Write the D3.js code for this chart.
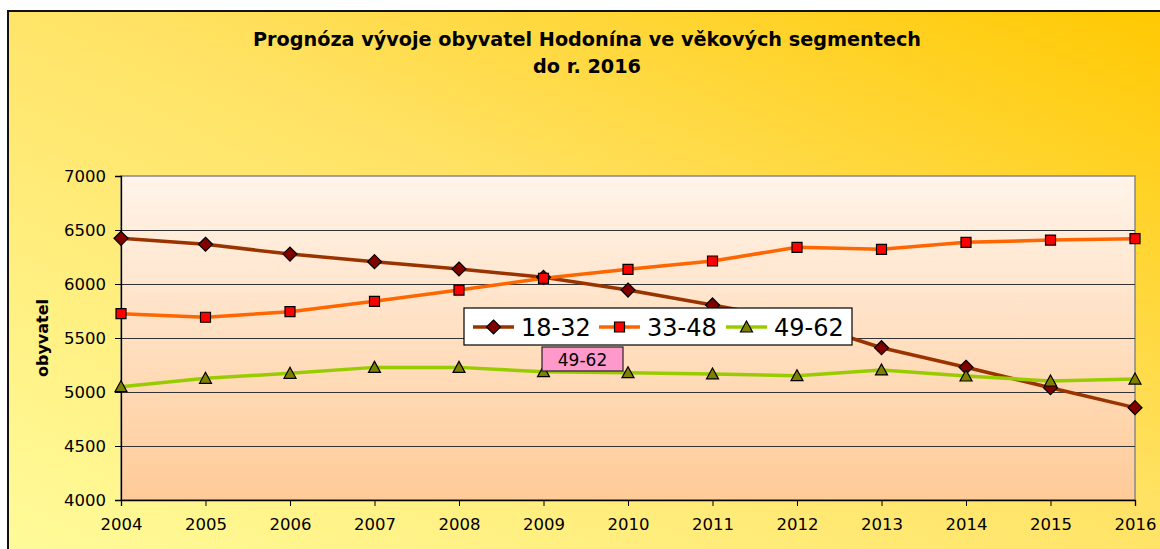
<!DOCTYPE html>
<html>
<head>
<meta charset="utf-8">
<title>Prognóza vývoje obyvatel Hodonína</title>
<script src="https://d3js.org/d3.v7.min.js"></script>
<style>
  body { margin: 0; background: #fff; }
  text { font-family: "DejaVu Sans", Verdana, sans-serif; fill: #000; }
</style>
</head>
<body>
<svg id="chart" width="1160" height="549"></svg>
<script>
// data
var years = [2004, 2005, 2006, 2007, 2008, 2009, 2010, 2011, 2012, 2013, 2014, 2015, 2016];
var s1832 = [6423, 6368, 6277, 6207, 6139, 6062, 5944, 5806, 5660, 5410, 5229, 5040, 4855];
var s3348 = [5725, 5692, 5744, 5840, 5944, 6053, 6136, 6213, 6340, 6321, 6386, 6407, 6420];
var s4962 = [5049, 5127, 5173, 5228, 5228, 5188, 5179, 5167, 5151, 5204, 5148, 5102, 5120];
var yTicks = [4000, 4500, 5000, 5500, 6000, 6500, 7000];
var titleLines = ["Prognóza vývoje obyvatel Hodonína ve věkových segmentech", "do r. 2016"];

var series = [
  { name: "18-32", values: s1832, line: "#993300", fill: "#800000", marker: "diamond" },
  { name: "33-48", values: s3348, line: "#FF6600", fill: "#FF0000", marker: "square" },
  { name: "49-62", values: s4962, line: "#99CC00", fill: "#808000", marker: "triangle" }
];

var svg = d3.select("#chart");
var defs = svg.append("defs");

var bg = defs.append("linearGradient").attr("id", "bg")
  .attr("x1", 0).attr("y1", 1).attr("x2", 1).attr("y2", 0);
bg.append("stop").attr("offset", "0%").attr("stop-color", "#FFFC9C");
bg.append("stop").attr("offset", "55%").attr("stop-color", "#FFE264");
bg.append("stop").attr("offset", "100%").attr("stop-color", "#FFC800");

var pg = defs.append("linearGradient").attr("id", "plotbg")
  .attr("x1", 0).attr("y1", 0).attr("x2", 0).attr("y2", 1);
pg.append("stop").attr("offset", "0%").attr("stop-color", "#FFF4EA");
pg.append("stop").attr("offset", "100%").attr("stop-color", "#FFCB98");

// outer chart area
svg.append("rect")
  .attr("x", 8).attr("y", 11).attr("width", 1170).attr("height", 560)
  .attr("fill", "url(#bg)").attr("stroke", "#111").attr("stroke-width", 2);

// title
svg.append("text")
  .attr("x", 587).attr("y", 46)
  .attr("text-anchor", "middle")
  .attr("font-weight", "bold").attr("font-size", "19px")
  .attr("textLength", 668).attr("lengthAdjust", "spacingAndGlyphs")
  .text(titleLines[0]);
svg.append("text")
  .attr("x", 587).attr("y", 73)
  .attr("text-anchor", "middle")
  .attr("font-weight", "bold").attr("font-size", "19px")
  .attr("textLength", 108).attr("lengthAdjust", "spacingAndGlyphs")
  .text(titleLines[1]);

var plotLeft = 121, plotRight = 1135, plotTop = 176, plotBottom = 500;

var x = d3.scalePoint().domain(years).range([plotLeft, plotRight]);
var y = d3.scaleLinear().domain([4000, 7000]).range([plotBottom, plotTop]);

// plot area
svg.append("rect")
  .attr("x", plotLeft).attr("y", plotTop)
  .attr("width", plotRight - plotLeft).attr("height", plotBottom - plotTop)
  .attr("fill", "url(#plotbg)").attr("stroke", "#888").attr("stroke-width", 1.5);

// gridlines
svg.append("g").selectAll("line")
  .data(yTicks.slice(1, -1))
  .enter().append("line")
    .attr("x1", plotLeft).attr("x2", plotRight)
    .attr("y1", function(d) { return y(d) + 0.5; })
    .attr("y2", function(d) { return y(d) + 0.5; })
    .attr("stroke", "#333").attr("stroke-width", 1);

// axes
var yAxis = svg.append("g")
  .attr("transform", "translate(" + plotLeft + ",0)")
  .call(d3.axisLeft(y).tickValues(yTicks).tickSize(6).tickPadding(9).tickFormat(d3.format("d")));
var xAxis = svg.append("g")
  .attr("transform", "translate(0," + plotBottom + ")")
  .call(d3.axisBottom(x).tickSize(6).tickPadding(16));

[yAxis, xAxis].forEach(function(a) {
  a.select(".domain").attr("stroke", "#000").attr("stroke-width", 1.3);
  a.selectAll(".tick line").attr("stroke", "#000");
  a.selectAll(".tick text")
    .attr("font-family", "DejaVu Sans, Verdana, sans-serif")
    .attr("font-size", "16.5px").attr("fill", "#000");
});
xAxis.selectAll(".tick text").attr("dy", "0.32em").attr("y", 25);

// y axis title
svg.append("text")
  .attr("transform", "translate(48,338) rotate(-90)")
  .attr("text-anchor", "middle")
  .attr("font-weight", "bold").attr("font-size", "16px")
  .text("obyvatel");

function markerPath(type) {
  if (type === "diamond") return "M0,-7L7,0L0,7L-7,0Z";
  if (type === "square") return "M-5,-5H5V5H-5Z";
  return "M0,-6L6,5H-6Z";
}

var line = d3.line()
  .x(function(d, i) { return x(years[i]); })
  .y(function(d) { return y(d); });

series.forEach(function(s) {
  svg.append("path")
    .datum(s.values)
    .attr("d", line)
    .attr("fill", "none")
    .attr("stroke", s.line)
    .attr("stroke-width", 3.5)
    .attr("stroke-linejoin", "round");
});
series.forEach(function(s) {
  svg.append("g").selectAll("path")
    .data(s.values)
    .enter().append("path")
      .attr("transform", function(d, i) { return "translate(" + x(years[i]) + "," + y(d) + ")"; })
      .attr("d", markerPath(s.marker))
      .attr("fill", s.fill)
      .attr("stroke", "#000").attr("stroke-width", 1.2);
});

// legend
var legend = svg.append("g");
legend.append("rect")
  .attr("x", 464).attr("y", 308).attr("width", 388).attr("height", 37)
  .attr("fill", "#fff").attr("stroke", "#000").attr("stroke-width", 1.2);
var legX = [473, 599, 726];
series.forEach(function(s, i) {
  var g = legend.append("g").attr("transform", "translate(" + legX[i] + ",327)");
  g.append("line").attr("x1", 0).attr("x2", 41).attr("y1", 0).attr("y2", 0)
    .attr("stroke", s.line).attr("stroke-width", 3.5);
  g.append("path").attr("transform", "translate(20.5,0)")
    .attr("d", markerPath(s.marker))
    .attr("fill", s.fill).attr("stroke", "#000").attr("stroke-width", 1.2);
  g.append("text").attr("x", 48).attr("y", 9)
    .attr("font-size", "24px")
    .text(s.name);
});

// data label box
svg.append("rect")
  .attr("x", 542).attr("y", 347).attr("width", 81).attr("height", 24)
  .attr("fill", "#FF99CC").attr("stroke", "#222").attr("stroke-width", 1.2);
svg.append("text")
  .attr("x", 582.5).attr("y", 365.5)
  .attr("text-anchor", "middle").attr("font-size", "17px")
  .text("49-62");
</script>
</body>
</html>
